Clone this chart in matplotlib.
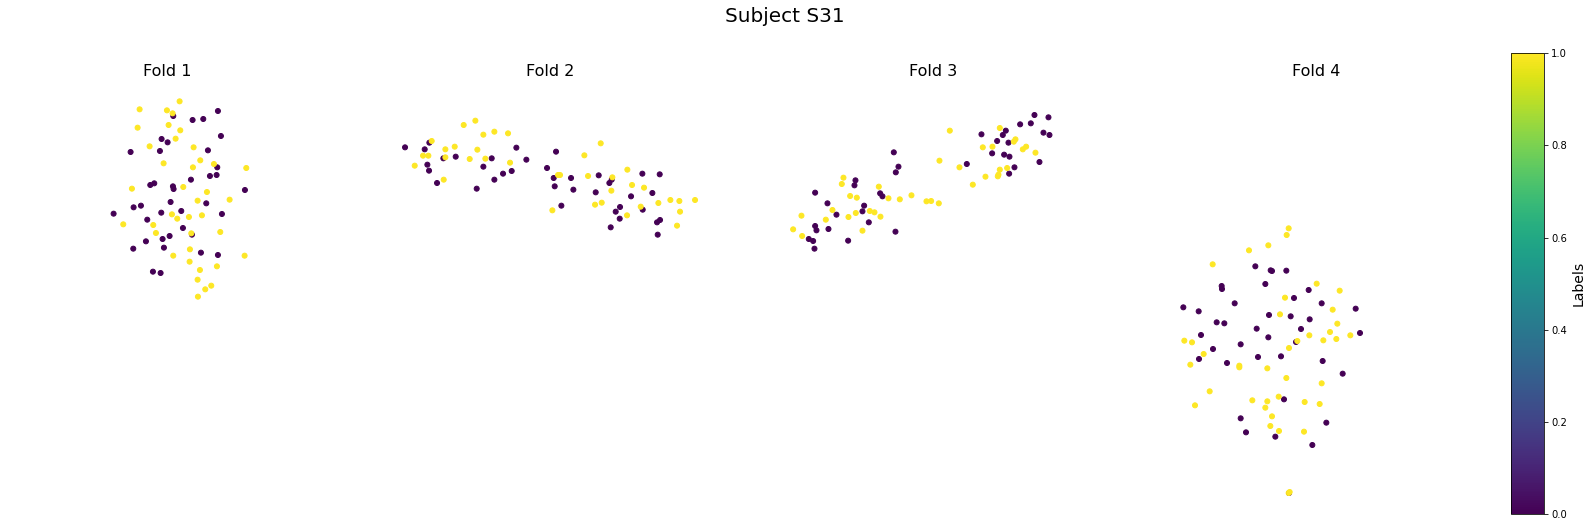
"""
Embedding of each fold for one subject, with a shared label colorbar.
"""

import matplotlib
matplotlib.use('Agg')
import matplotlib.pyplot as plt
import numpy as np

DPI = 72
WIDTH, HEIGHT = 1593, 527

fold_names = ['Fold 1', 'Fold 2', 'Fold 3', 'Fold 4']

fold1_class0 = [(250, 93), (308, 105), (340, 102), (384, 78), (393, 153), (215, 162), (233, 172), (122, 201),
                (210, 198), (354, 196), (382, 247), (360, 273), (380, 270), (303, 284), (181, 300), (193, 295),
                (249, 304), (251, 312), (465, 315), (242, 351), (349, 355), (153, 362), (131, 367), (71, 386),
                (214, 383), (274, 378), (396, 387), (172, 404), (279, 429), (306, 449), (239, 453), (218, 462),
                (168, 469), (130, 491), (222, 488), (333, 503), (384, 510), (189, 560), (212, 564)]
fold1_class1 = [(269, 49), (149, 73), (231, 76), (248, 85), (236, 120), (143, 128), (271, 136), (257, 161),
                (179, 184), (311, 187), (331, 226), (221, 235), (309, 247), (372, 237), (469, 249), (280, 306),
                (126, 311), (351, 321), (323, 347), (419, 344), (246, 388), (262, 401), (297, 396), (336, 391),
                (100, 418), (190, 420), (198, 444), (304, 445), (391, 441), (300, 493), (250, 512), (464, 512),
                (299, 530), (381, 544), (330, 555), (323, 584), (364, 602), (346, 613), (324, 635)]

fold2_class0 = [(60, 127), (133, 113), (119, 133), (175, 160), (212, 155), (127, 179), (132, 197), (156, 234),
                (275, 251), (328, 224), (354, 206), (380, 198), (295, 185), (320, 160), (394, 128), (424, 164),
                (513, 140), (486, 189), (506, 219), (509, 244), (558, 219), (565, 254), (529, 302), (641, 211),
                (673, 234), (680, 224), (632, 262), (772, 206), (824, 208), (738, 274), (802, 264), (705, 306),
                (692, 320), (704, 341), (773, 314), (677, 367), (816, 352), (825, 345), (818, 389)]
fold2_class1 = [(236, 60), (271, 47), (295, 89), (328, 80), (369, 85), (140, 108), (181, 133), (209, 125),
                (277, 134), (114, 152), (130, 152), (181, 157), (254, 162), (301, 161), (375, 173), (89, 182),
                (176, 224), (647, 115), (598, 151), (519, 210), (525, 210), (609, 213), (682, 217), (727, 194),
                (741, 240), (777, 248), (679, 257), (630, 299), (650, 293), (502, 316), (726, 331), (767, 305),
                (820, 294), (856, 285), (883, 288), (930, 285), (885, 320), (876, 362)]

fold3_class0 = [(793, 45), (782, 70), (750, 73), (707, 92), (698, 105), (634, 103), (681, 123), (715, 128),
                (666, 160), (702, 164), (718, 170), (808, 186), (733, 202), (717, 221), (590, 192), (371, 157),
                (385, 200), (377, 217), (256, 241), (253, 256), (135, 278), (330, 280), (337, 289), (172, 310),
                (282, 317), (277, 334), (199, 344), (296, 367), (135, 378), (139, 391), (175, 387), (376, 395),
                (116, 417), (129, 423), (234, 422), (133, 446), (835, 52), (820, 98), (838, 105)]
fold3_class1 = [(689, 84), (539, 92), (736, 118), (731, 125), (638, 142), (667, 140), (768, 140), (758, 148),
                (796, 158), (508, 182), (568, 202), (689, 209), (711, 204), (685, 224), (683, 229), (646, 230),
                (608, 254), (220, 233), (215, 252), (326, 260), (240, 288), (260, 293), (355, 295), (389, 298),
                (424, 286), (469, 304), (483, 303), (506, 310), (187, 330), (299, 333), (313, 337), (257, 339),
                (331, 350), (235, 351), (94, 347), (167, 359), (277, 392), (69, 388), (96, 408)]

fold4_class0 = [(316, 154), (362, 166), (366, 168), (409, 167), (215, 213), (216, 222), (346, 207), (476, 225),
                (432, 249), (254, 265), (100, 277), (146, 289), (515, 265), (357, 300), (422, 304), (479, 313),
                (200, 322), (223, 325), (320, 341), (453, 342), (153, 360), (355, 367), (438, 381), (189, 402),
                (272, 388), (147, 432), (231, 444), (324, 426), (393, 424), (518, 438), (578, 476), (402, 553),
                (272, 610), (529, 623), (288, 652), (376, 665), (487, 690), (617, 281), (630, 354), (417, 834)]
fold4_class1 = [(416, 40), (410, 60), (355, 91), (297, 106), (188, 148), (500, 206), (569, 227), (405, 248),
                (548, 284), (390, 298), (562, 326), (540, 351), (478, 361), (601, 361), (559, 372), (520, 376),
                (442, 378), (103, 377), (126, 382), (417, 399), (161, 417), (121, 449), (268, 452), (268, 457),
                (352, 460), (409, 489), (515, 505), (179, 529), (386, 545), (307, 556), (352, 559), (464, 561),
                (509, 567), (135, 571), (346, 578), (366, 604), (361, 633), (387, 648), (462, 650), (419, 831),
                (416, 834)]

folds = [(fold1_class0, fold1_class1), (fold2_class0, fold2_class1),
         (fold3_class0, fold3_class1), (fold4_class0, fold4_class1)]

# view limits of each embedding (left, right, bottom, top)
fold_limits = [(-307, 773, 1305, -15), (-46, 1034, 1245, -75),
               (-52, 1028, 1260, -60), (-42, 1038, 915, -405)]
fold_centers = [167.6, 549.7, 932.8, 1316]


def px_axes(fig, left, top, right, bottom):
    return fig.add_axes([left / WIDTH, 1 - bottom / HEIGHT, (right - left) / WIDTH, (bottom - top) / HEIGHT])


fig = plt.figure(figsize=(WIDTH / DPI, HEIGHT / DPI), dpi=DPI)

scatter = None
for name, (class0, class1), limits, center in zip(fold_names, folds, fold_limits, fold_centers):
    ax = px_axes(fig, center - 180, 80, center + 180, 520)
    points = np.array(class0 + class1)
    labels = np.array([0] * len(class0) + [1] * len(class1))
    scatter = ax.scatter(points[:, 0], points[:, 1], c=labels, cmap='viridis', vmin=0, vmax=1, s=25)
    ax.set_xlim(limits[0], limits[1])
    ax.set_ylim(limits[2], limits[3])
    ax.set_title(name, fontsize=16, pad=4)
    ax.axis('off')

fig.suptitle('Subject S31', fontsize=20, x=785 / WIDTH, y=1 - 16 / HEIGHT, va='center')

cax = px_axes(fig, 1510.7, 53.3, 1544.3, 514)
cbar = fig.colorbar(scatter, cax=cax)
cbar.set_label('Labels', fontsize=14)

plt.savefig('out.png', dpi=DPI)
plt.close(fig)
